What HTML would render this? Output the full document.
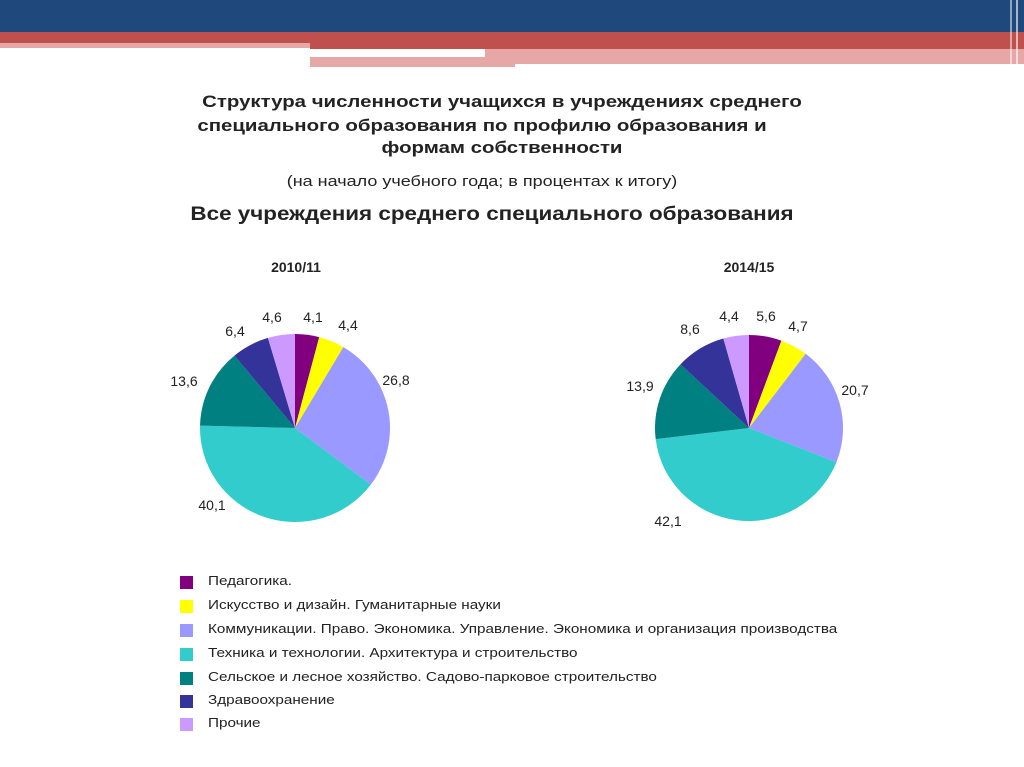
<!DOCTYPE html>
<html><head><meta charset="utf-8"><style>
body{margin:0;width:1024px;height:767px;background:#fff;overflow:hidden;position:relative;font-family:"Liberation Sans",sans-serif;color:#222}
.a{position:absolute}
.t{position:absolute;left:0;width:1004px;text-align:center;font-weight:bold;font-size:17px;white-space:nowrap;transform:scaleX(1.2)}
.lg{position:absolute;left:180px;font-size:12.5px}
.lg i{position:absolute;left:0;top:2px;width:13px;height:13px}
.lg span{position:absolute;left:28px;top:0;white-space:nowrap;transform:scaleX(1.22);transform-origin:0 0}
</style></head><body>
<div class="a" style="left:0;top:0;width:1024px;height:32px;background:#1f497d"></div>
<div class="a" style="left:0;top:32px;width:1024px;height:11px;background:#c0504d"></div>
<div class="a" style="left:0;top:43px;width:310px;height:5px;background:#e6a8a7"></div>
<div class="a" style="left:310px;top:43px;width:714px;height:6px;background:#c0504d"></div>
<div class="a" style="left:485px;top:49px;width:539px;height:15px;background:#e6a8a7"></div>
<div class="a" style="left:310px;top:57px;width:175px;height:10px;background:#e6a8a7"></div>
<div class="a" style="left:485px;top:64px;width:30px;height:3px;background:#e6a8a7"></div>
<div class="a" style="left:1010px;top:0;width:2px;height:67px;background:#fff;opacity:.5"></div>
<div class="a" style="left:1016px;top:0;width:2px;height:67px;background:#fff;opacity:.6"></div>

<div class="t" style="top:92px">Структура численности учащихся в учреждениях среднего</div>
<div class="t" style="top:116px;left:-20px">специального образования по профилю образования и</div>
<div class="t" style="top:138px">формам собственности</div>
<div class="a" style="left:0;width:964px;text-align:center;top:173px;font-size:15px;transform:scaleX(1.2)">(на начало учебного года; в процентах к итогу)</div>
<div class="a" style="left:0;width:984px;text-align:center;top:204px;font-size:19px;font-weight:bold;transform:scaleX(1.18)">Все учреждения среднего специального образования</div>
<div class="a" style="left:246px;width:100px;text-align:center;top:259px;font-size:14px;font-weight:bold">2010/11</div>
<div class="a" style="left:699px;width:100px;text-align:center;top:259px;font-size:14px;font-weight:bold">2014/15</div>

<svg id="s" class="a" style="left:0;top:0" width="1024" height="767" font-family="Liberation Sans, sans-serif" font-size="14" fill="#222"></svg>

<div class="lg" style="top:574px"><i style="background:#800080"></i><span>Педагогика.</span></div>
<div class="lg" style="top:598px"><i style="background:#ffff00"></i><span>Искусство и дизайн. Гуманитарные науки</span></div>
<div class="lg" style="top:622px"><i style="background:#9999ff"></i><span>Коммуникации. Право. Экономика. Управление. Экономика и организация производства</span></div>
<div class="lg" style="top:646px"><i style="background:#33cccc"></i><span>Техника и технологии. Архитектура и строительство</span></div>
<div class="lg" style="top:670px"><i style="background:#008080"></i><span>Сельское и лесное хозяйство. Садово-парковое строительство</span></div>
<div class="lg" style="top:693px"><i style="background:#333399"></i><span>Здравоохранение</span></div>
<div class="lg" style="top:716px"><i style="background:#cc99ff"></i><span>Прочие</span></div>

<script>
var cols=["#800080","#ffff00","#9999ff","#33cccc","#008080","#333399","#cc99ff"];
var s=document.getElementById("s"),h="";
function pie(cx,cy,rx,ry,v,labels){
 var a=0;
 for(var i=0;i<v.length;i++){
  var a0=a/100*2*Math.PI;a+=v[i];var a1=a/100*2*Math.PI;
  var x0=cx+rx*Math.sin(a0),y0=cy-ry*Math.cos(a0),x1=cx+rx*Math.sin(a1),y1=cy-ry*Math.cos(a1);
  h+='<path d="M'+cx+' '+cy+'L'+x0+' '+y0+'A'+rx+' '+ry+' 0 '+(v[i]>50?1:0)+' 1 '+x1+' '+y1+'Z" fill="'+cols[i]+'"/>';
 }
 labels.forEach(function(l){h+='<text x="'+l[0]+'" y="'+l[1]+'" text-anchor="middle">'+l[2]+'</text>';});
}
pie(295,428,95,94,[4.1,4.4,26.8,40.1,13.6,6.4,4.6],[[313,322,"4,1"],[348,330,"4,4"],[396,385,"26,8"],[212,510,"40,1"],[184,386,"13,6"],[235,336,"6,4"],[272,322,"4,6"]]);
pie(749,428,94,93,[5.6,4.7,20.7,42.1,13.9,8.6,4.4],[[766,321,"5,6"],[798,331,"4,7"],[855,395,"20,7"],[668,526,"42,1"],[640,391,"13,9"],[690,334,"8,6"],[729,321,"4,4"]]);
s.innerHTML=h;
</script>
</body></html>
